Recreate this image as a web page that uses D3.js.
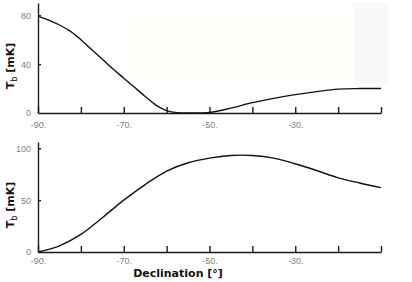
<!DOCTYPE html>
<html>
<head>
<meta charset="utf-8">
<script src="https://cdn.jsdelivr.net/npm/d3@7"></script>
<style>
body{margin:0;background:#fff}
.tick text{font-family:"Liberation Sans",Arial,sans-serif;font-size:9px;fill:#808080}
.axis path,.axis line{stroke:#1a1a1a;stroke-width:1.4px}
.line{fill:none;stroke:#111;stroke-width:1.4px}
.lbl{font-family:"DejaVu Sans",sans-serif;font-weight:bold;font-size:11px;fill:#111}
</style>
</head>
<body>
<div id="chart"></div>
<script>
// declination points and brightness temperature
var declTop=[-90,-87.5,-85,-82.5,-80,-77.5,-75,-72.5,-70,-67.5,-65,-62.5,-60,-57.5,-55,-50,-45,-40,-35,-30,-25,-20,-15,-10]
var tbTop=[79,76,72,67,60,52,44,36,28.5,21,13.5,6.5,2,0.3,0,0.5,4,8.5,12,15,17.5,19.5,20,20]

var declBot=[-90,-85,-80,-75,-70,-65,-60,-55,-50,-45,-40,-35,-30,-25,-20,-15,-10]
var tbBot=[0,6,17,33,50,65,78,86,90.5,93,93,90.5,85,78.5,71.5,66.5,62]

var xTicks=[-90,-80,-70,-60,-50,-40,-30,-20,-10]
var xLabels=[-90,-70,-50,-30]
var yTicksTop=[0,40,80]
var yTicksBot=[0,50,100]

var width=412, height=282

var svg=d3.select("#chart").append("svg")
	.attr("width",width)
	.attr("height",height)

// faint scan patches behind the top plot
svg.append("rect").attr("x",130).attr("y",6).attr("width",221).attr("height",70).attr("fill","#fefefb")
svg.append("rect").attr("x",353).attr("y",2).attr("width",35).attr("height",82).attr("fill","#f9f9f9")

var x=d3.scaleLinear().domain([-90,-10]).range([38,381])

function panel(decl,vals,yDomain,yRange,yTicks,labPad){
	var y=d3.scaleLinear().domain(yDomain).range(yRange)

	var xAxis=d3.axisBottom(x)
		.tickValues(xTicks)
		.tickSize(-6)
		.tickSizeOuter(0)
		.tickPadding(labPad)
		.tickFormat(function(d){ return xLabels.indexOf(d)>=0 ? d+"." : "" })
	svg.append("g")
		.attr("class","x axis")
		.attr("transform","translate(0,"+y(0)+")")
		.call(xAxis)

	var yAxis=d3.axisLeft(y)
		.tickValues(yTicks)
		.tickSize(-3)
		.tickSizeOuter(0)
		.tickPadding(7)
	svg.append("g")
		.attr("class","y axis")
		.attr("transform","translate("+x(-90)+",0)")
		.call(yAxis)
		.selectAll(".tick").filter(function(d){return d===0}).select("line").remove()

	var line=d3.line()
		.x(function(d,i){ return x(decl[i]) })
		.y(function(d){ return y(d) })
		.curve(d3.curveCatmullRom.alpha(0.5))
	svg.append("path")
		.datum(vals)
		.attr("class","line")
		.attr("d",line)

	// T_b [mK] label
	var cy=(yRange[0]+yRange[1])/2+8
	var t=svg.append("text")
		.attr("class","lbl")
		.attr("transform","translate(14,"+cy+") rotate(-90)")
		.attr("text-anchor","middle")
	t.append("tspan").text("T")
	t.append("tspan").attr("font-size","8px").attr("font-weight","normal").attr("dy",3).text("b")
	t.append("tspan").attr("dy",-3).text(" [mK]")
}

panel(declTop,tbTop,[0,90],[113,3],yTicksTop,9)
panel(declBot,tbBot,[0,106],[252,142],yTicksBot,6)

svg.append("text")
	.attr("class","lbl")
	.attr("x",178)
	.attr("y",277)
	.attr("text-anchor","middle")
	.text("Declination [°]")
</script>
</body>
</html>
